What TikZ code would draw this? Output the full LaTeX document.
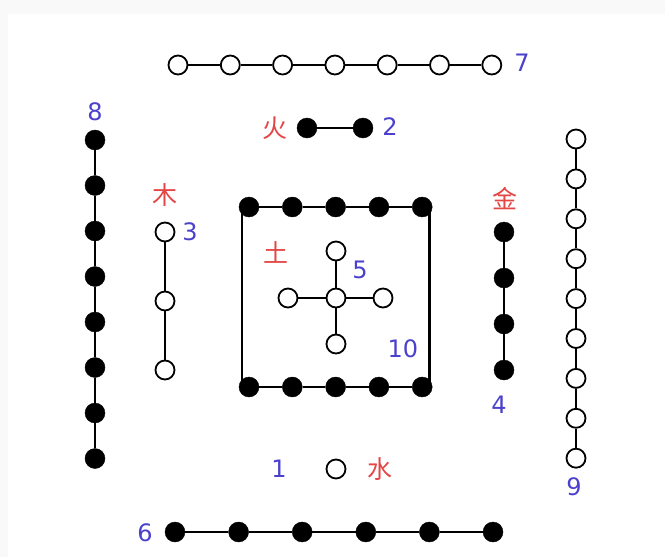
\documentclass[tikz,border=0pt]{standalone}
\usepackage{fontspec}
\setmainfont{DejaVu Sans}
\newfontfamily\cjk{Noto Sans CJK SC}
\usetikzlibrary{positioning}
\definecolor{numblue}{RGB}{75,65,205}
\definecolor{elemred}{RGB}{228,70,70}

\begin{document}
\begin{tikzpicture}[x=1pt,y=-1pt,
	yang/.style={circle,draw,line width=1.8pt,fill=white,minimum size=19pt,inner sep=0pt},
	yin/.style={circle,draw,fill=black,minimum size=20pt,inner sep=0pt},
	link/.style={line width=2.4pt},
	num/.style={text=numblue,inner sep=1pt,font=\fontsize{24}{24}\selectfont},
	elem/.style={text=elemred,inner sep=1pt,font=\cjk\fontsize{25}{25}\selectfont}]
	
	\fill[gray!5] (0,0) rectangle (665,557);
	\fill[white] (8,14) rectangle (665,557);
	\useasboundingbox (0,0) rectangle (665,557);
	
	% 7, south (top)
	\foreach \i in {0,...,6}
		\node[yang] (seven\i) at (178+52.3*\i,65) {};
	\foreach \i [count=\j from 1] in {0,...,5}
		\draw[link] (seven\i) -- (seven\j);
	\node[num] (l7) at (522,63) {7};
	
	% 2, fire
	\node[yin] (two0) at (307,128) {};
	\node[yin] (two1) at (363,128) {};
	\draw[link] (two0) -- (two1);
	\node[elem] (fire) at (275,128) {火};
	\node[num] (l2) at (390,127) {2};
	
	% 8, east (left)
	\foreach \i in {0,...,7}
		\node[yin] (eight\i) at (95,140+45.5*\i) {};
	\foreach \i [count=\j from 1] in {0,...,6}
		\draw[link] (eight\i) -- (eight\j);
	\node[num] (l8) at (95,112) {8};
	
	% 3, wood
	\foreach \i in {0,...,2}
		\node[yang] (three\i) at (165,232+69*\i) {};
	\foreach \i [count=\j from 1] in {0,...,1}
		\draw[link] (three\i) -- (three\j);
	\node[elem] (wood) at (165,195) {木};
	\node[num] (l3) at (190,232) {3};
	
	% 10, earth (square)
	\foreach \i in {0,...,4} {
		\node[yin] (top\i) at (249+43.3*\i,207) {};
		\node[yin] (bot\i) at (249+43.3*\i,387) {};
	}
	\foreach \i [count=\j from 1] in {0,...,3} {
		\draw[link] (top\i) -- (top\j);
		\draw[link] (bot\i) -- (bot\j);
	}
	\draw[link] ([xshift=3pt]top0.west) -- ([xshift=3pt]bot0.west);
	\draw[link] ([xshift=-3pt]top4.east) -- ([xshift=-3pt]bot4.east);
	\node[num] (l10) at (403,349) {10};
	
	% 5, centre
	\node[yang] (five) at (336,298) {};
	\node[yang] (fiveN) at (336,251) {};
	\node[yang] (fiveS) at (336,344) {};
	\node[yang] (fiveW) at (288,298) {};
	\node[yang] (fiveE) at (383,298) {};
	\draw[link] (five) -- (fiveN);
	\draw[link] (five) -- (fiveS);
	\draw[link] (five) -- (fiveW);
	\draw[link] (five) -- (fiveE);
	\node[elem] (earth) at (276,252) {土};
	\node[num] (l5) at (360,270) {5};
	
	% 4, metal
	\foreach \i in {0,...,3}
		\node[yin] (four\i) at (504,232+46*\i) {};
	\foreach \i [count=\j from 1] in {0,...,2}
		\draw[link] (four\i) -- (four\j);
	\node[elem] (metal) at (505,199) {金};
	\node[num] (l4) at (499,405) {4};
	
	% 9, west (right)
	\foreach \i in {0,...,8}
		\node[yang] (nine\i) at (576,139+39.9*\i) {};
	\foreach \i [count=\j from 1] in {0,...,7}
		\draw[link] (nine\i) -- (nine\j);
	\node[num] (l9) at (574,487) {9};
	
	% 1, water
	\node[yang] (one) at (336,469) {};
	\node[num] (l1) at (279,469) {1};
	\node[elem] (water) at (380,469) {水};
	
	% 6, north (bottom)
	\foreach \i in {0,...,5}
		\node[yin] (six\i) at (175+63.6*\i,532) {};
	\foreach \i [count=\j from 1] in {0,...,4}
		\draw[link] (six\i) -- (six\j);
	\node[num] (l6) at (145,533) {6};
	
\end{tikzpicture}
\end{document}
